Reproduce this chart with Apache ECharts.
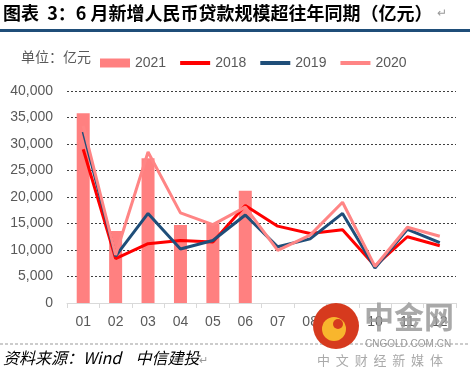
<!DOCTYPE html>
<html>
<head>
<meta charset="utf-8">
<script src="https://cdn.jsdelivr.net/npm/echarts@6/dist/echarts.min.js"></script>
<style>
  html, body { margin: 0; padding: 0; background: #fff; }
  #chart { width: 470px; height: 375px; }
</style>
</head>
<body>
<div id="chart"></div>
<script>
// 月份
const months = ['01', '02', '03', '04', '05', '06', '07', '08', '09', '10', '11', '12'];
// 新增人民币贷款（亿元）
const loans2021 = [35800, 13600, 27300, 14700, 15000, 21200];
const loans2018 = [29000, 8393, 11200, 11800, 11500, 18400, 14500, 13100, 13800, 6970, 12500, 10800];
const loans2019 = [32300, 8858, 16900, 10200, 11800, 16600, 10600, 12100, 16900, 6613, 13900, 11400];
const loans2020 = [33400, 9057, 28500, 17000, 14800, 18100, 9927, 12800, 19000, 6898, 14300, 12600];
const yTicks = [0, 5000, 10000, 15000, 20000, 25000, 30000, 35000, 40000];

const cjk = '"Noto Sans CJK SC", sans-serif';
const latin = '"Liberation Sans", Arial, sans-serif';
const lineIcon = 'path://M0,0 H30 V4 H0 Z';

const chart = echarts.init(document.getElementById('chart'));

const lineSeries = (name, data, color) => ({
  name: name,
  type: 'line',
  data: data,
  symbol: 'none',
  lineStyle: { color: color, width: 3 },
  itemStyle: { color: color },
  z: 3
});

chart.setOption({
  animation: false,
  backgroundColor: '#fff',
  textStyle: { fontFamily: latin },
  grid: { left: 67, right: 14, top: 91, bottom: 72 },
  legend: {
    left: 95,
    top: 51,
    itemWidth: 30,
    itemHeight: 9,
    itemGap: 14,
    symbolKeepAspect: true,
    textStyle: { color: '#595959', fontSize: 14, fontFamily: latin },
    data: [
      { name: '2021', icon: 'rect' },
      { name: '2018', icon: lineIcon },
      { name: '2019', icon: lineIcon },
      { name: '2020', icon: lineIcon }
    ]
  },
  xAxis: {
    type: 'category',
    data: months,
    boundaryGap: true,
    axisLine: { lineStyle: { color: '#d9d9d9', width: 1 } },
    axisTick: { show: true, length: 5, lineStyle: { color: '#d9d9d9' } },
    axisLabel: { color: '#595959', fontSize: 14, margin: 12, interval: 0 }
  },
  yAxis: {
    type: 'value',
    min: yTicks[0],
    max: yTicks[yTicks.length - 1],
    interval: 5000,
    axisLine: { show: false },
    axisTick: { show: false },
    axisLabel: {
      color: '#595959',
      fontSize: 14,
      margin: 14,
      formatter: v => v.toLocaleString('en-US')
    },
    splitLine: { lineStyle: { color: '#404040', type: [2, 2], width: 1 } }
  },
  series: [
    {
      name: '2021',
      type: 'bar',
      data: loans2021,
      barWidth: 13,
      itemStyle: { color: '#FF8080' },
      z: 2
    },
    lineSeries('2018', loans2018, '#FF0000'),
    lineSeries('2019', loans2019, '#1F4E79'),
    lineSeries('2020', loans2020, '#FF8585')
  ],
  graphic: [
    // 标题
    {
      type: 'text', left: 3, top: 4,
      style: {
        text: '图表  3：6 月新增人民币贷款规模超往年同期（亿元）',
        font: 'bold 18px ' + cjk, fill: '#000'
      }
    },
    {
      type: 'text', left: 437, top: 8,
      style: { text: '↵', font: '12px ' + latin, fill: '#999' }
    },
    {
      type: 'rect', shape: { x: 0, y: 29, width: 470, height: 3 },
      style: { fill: '#1F4E79' }
    },
    // 单位
    {
      type: 'text', left: 21, top: 50,
      style: { text: '单位：亿元', font: '14px ' + cjk, fill: '#595959' }
    },
    // 底部虚线与资料来源
    {
      type: 'line', shape: { x1: 0, y1: 344, x2: 470, y2: 344 },
      style: { stroke: '#999', lineWidth: 1, lineDash: [3, 2] }
    },
    {
      type: 'text', left: 3, top: 350,
      style: { text: '资料来源：Wind    中信建投', font: 'italic 16px ' + cjk, fill: '#000' }
    },
    {
      type: 'text', left: 199, top: 355,
      style: { text: '↵', font: '11px ' + latin, fill: '#999' }
    },
    // 水印
    {
      type: 'circle', shape: { cx: 336, cy: 326, r: 23 },
      style: { fill: '#D63A1E' }, z: 10
    },
    {
      type: 'circle', shape: { cx: 334, cy: 329, r: 12 },
      style: { fill: '#F8B62D' }, z: 11
    },
    {
      type: 'circle', shape: { cx: 338, cy: 324, r: 5 },
      style: { fill: '#D63A1E' }, z: 12
    },
    {
      type: 'text', left: 364, top: 302,
      style: { text: '中金网', font: 'bold 30px ' + cjk, fill: '#9a9a9a', opacity: 0.85 }, z: 10
    },
    {
      type: 'text', left: 365, top: 339,
      style: { text: 'CNGOLD.COM.CN', font: '10px ' + latin, fill: '#999' }, z: 10
    },
    {
      type: 'text', left: 317, top: 354,
      style: { text: '中  文  财  经  新  媒  体', font: '13px ' + cjk, fill: '#aaa' }, z: 10
    }
  ]
});
</script>
</body>
</html>
